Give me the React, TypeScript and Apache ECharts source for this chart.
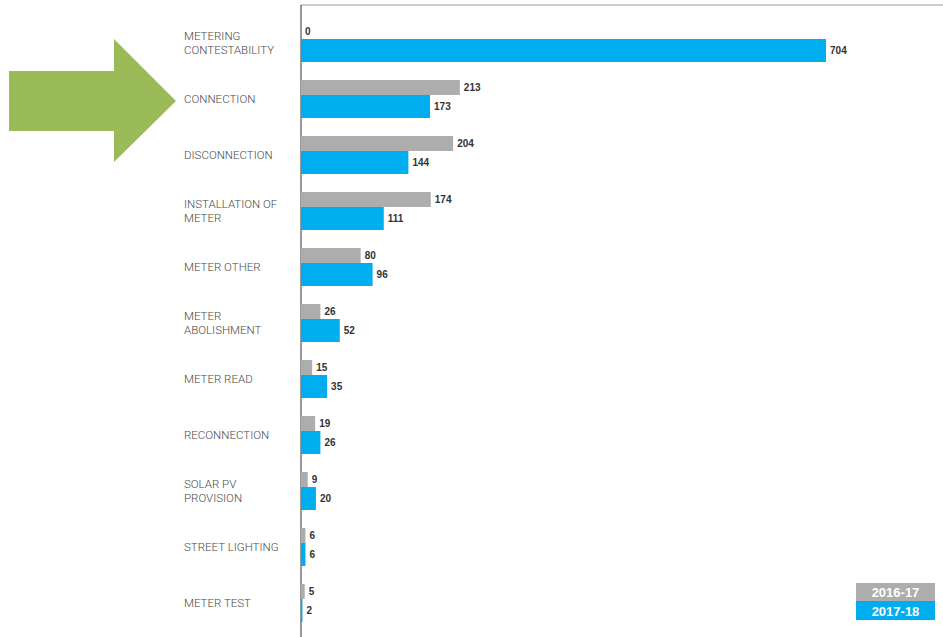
import React, { useEffect, useRef } from "react";
import * as echarts from "echarts";

const categories = [
  "METERING\nCONTESTABILITY",
  "CONNECTION",
  "DISCONNECTION",
  "INSTALLATION OF\nMETER",
  "METER OTHER",
  "METER\nABOLISHMENT",
  "METER READ",
  "RECONNECTION",
  "SOLAR PV\nPROVISION",
  "STREET LIGHTING",
  "METER TEST",
];
const series1617 = [0, 213, 204, 174, 80, 26, 15, 19, 9, 6, 5];
const series1718 = [704, 173, 144, 111, 96, 52, 35, 26, 20, 6, 2];
const legendNames = ["2016-17", "2017-18"];

const GREY = "#adadad";
const BLUE = "#00aeef";

export default function App() {
  const ref = useRef<HTMLDivElement>(null);
  useEffect(() => {
    if (!ref.current) return;
    const chart = echarts.init(ref.current, null, { renderer: "svg" });
    const labelStyle = {
      show: true,
      position: "right" as const,
      distance: 4,
      fontSize: 10,
      fontWeight: "bold" as const,
      color: "#333",
      fontFamily: "Liberation Sans, Arial, sans-serif",
    };
    chart.setOption({
      animation: false,
      backgroundColor: "#ffffff",
      grid: { left: 301, top: 15, bottom: 6, right: 45.4, containLabel: false },
      xAxis: {
        type: "value",
        min: 0,
        max: 800,
        show: false,
        splitLine: { show: false },
      },
      yAxis: {
        type: "category",
        inverse: true,
        data: categories,
        axisLine: { show: false },
        axisTick: { show: false },
        axisLabel: {
          align: "left",
          margin: 117,
          fontFamily: "Roboto, 'Noto Sans', sans-serif",
          fontWeight: 300,
          fontSize: 11.5,
          lineHeight: 14,
          color: "#4a4a4a",
          padding: [3, 0, 0, 0],
        },
      },
      series: [
        {
          name: legendNames[0],
          type: "bar",
          data: series1617,
          barWidth: 15,
          barGap: "0%",
          itemStyle: { color: GREY },
          label: labelStyle,
        },
        {
          name: legendNames[1],
          type: "bar",
          data: series1718,
          barWidth: 23,
          barGap: "0%",
          itemStyle: { color: BLUE },
          label: labelStyle,
        },
      ],
      graphic: [
        {
          type: "line",
          shape: { x1: 301, y1: 5, x2: 943, y2: 5 },
          style: { stroke: "#9a9a9a", lineWidth: 1 },
        },
        {
          type: "line",
          shape: { x1: 301, y1: 5, x2: 301, y2: 637 },
          style: { stroke: "#333333", lineWidth: 1 },
        },
        {
          type: "polygon",
          shape: {
            points: [
              [9, 71],
              [114, 71],
              [114, 39],
              [176, 101],
              [114, 162],
              [114, 131],
              [9, 131],
            ],
          },
          style: { fill: "#9bbb59" },
        },
        {
          type: "rect",
          shape: { x: 856, y: 583, width: 79, height: 18 },
          style: { fill: GREY },
        },
        {
          type: "rect",
          shape: { x: 856, y: 601, width: 79, height: 19 },
          style: { fill: BLUE },
        },
        {
          type: "text",
          x: 895.5,
          y: 592,
          style: {
            text: legendNames[0],
            fill: "#ffffff",
            fontSize: 13,
            fontWeight: "bold",
            fontFamily: "Liberation Sans, Arial, sans-serif",
            align: "center",
            verticalAlign: "middle",
          },
        },
        {
          type: "text",
          x: 895.5,
          y: 611,
          style: {
            text: legendNames[1],
            fill: "#ffffff",
            fontSize: 13,
            fontWeight: "bold",
            fontFamily: "Liberation Sans, Arial, sans-serif",
            align: "center",
            verticalAlign: "middle",
          },
        },
      ],
    });
    return () => chart.dispose();
  }, []);
  return (
    <div
      ref={ref}
      style={{ position: "fixed", left: 0, top: 0, width: 943, height: 637 }}
    />
  );
}
